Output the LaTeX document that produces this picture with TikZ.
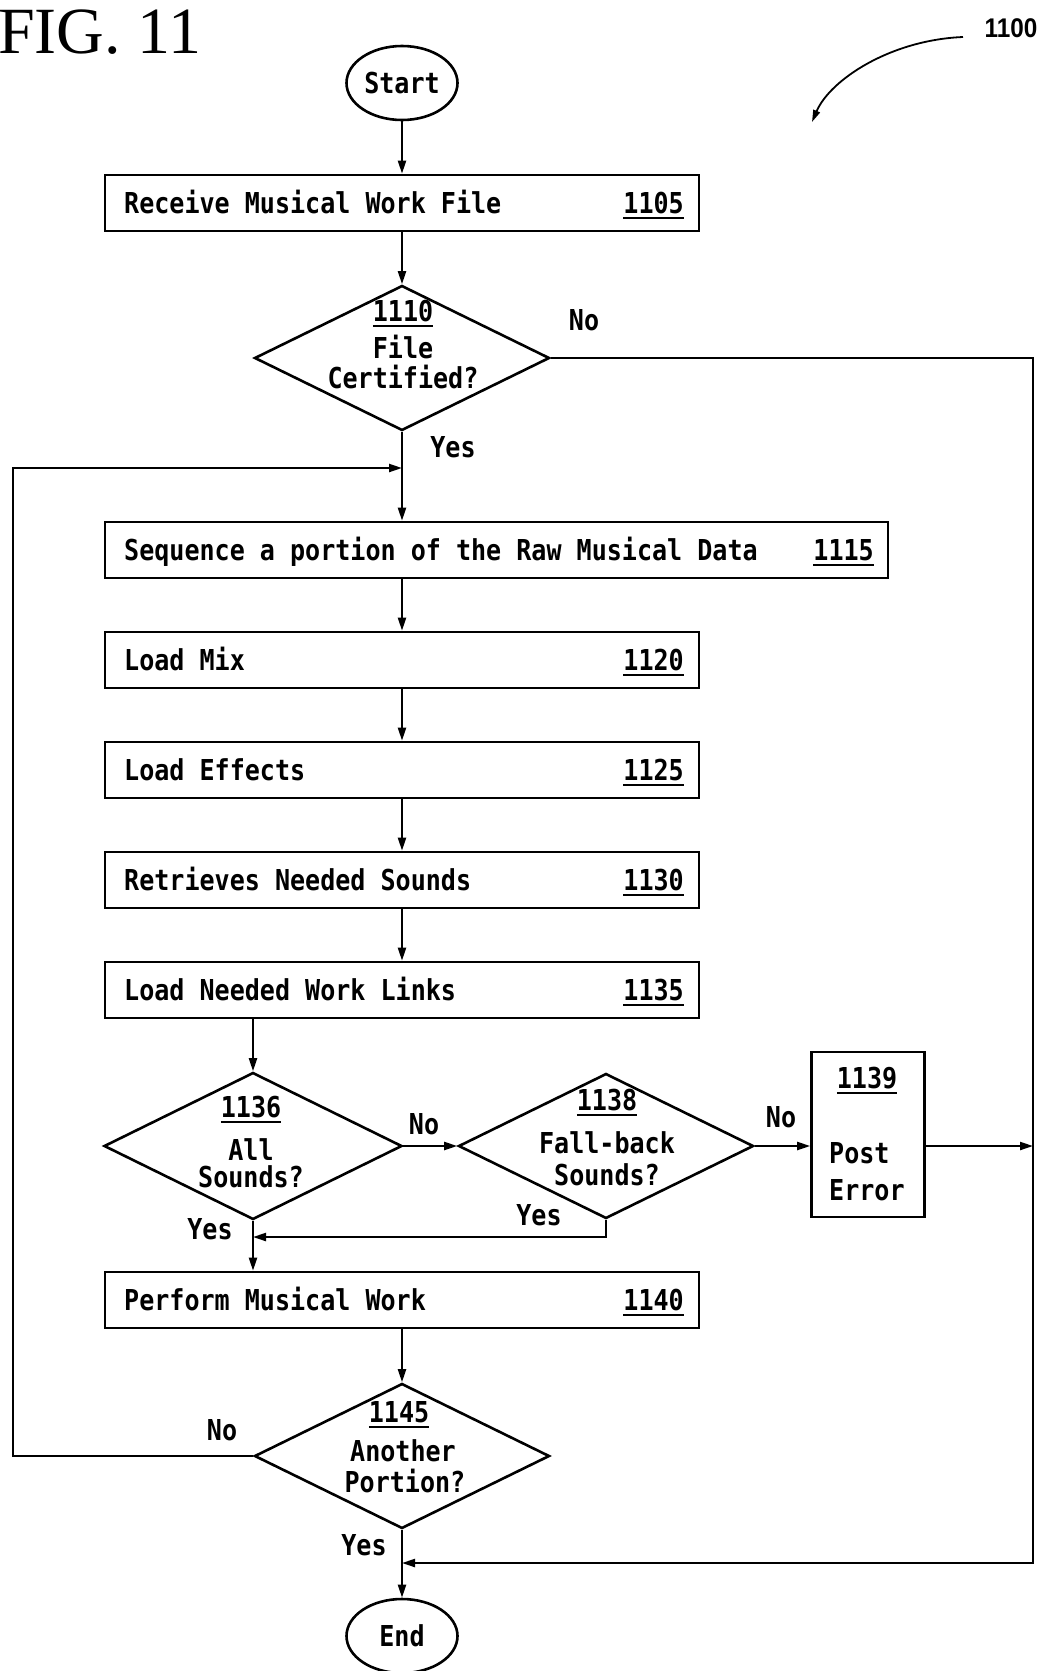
\documentclass[tikz,border=0pt]{standalone}
\usepackage{fontspec}
\usetikzlibrary{arrows.meta,shapes.geometric}
\newfontfamily\df{DejaVu Sans Mono}[FakeStretch=0.87]
\newfontfamily\figfont{Liberation Serif}
\newfontfamily\reffont{Liberation Sans}[FakeStretch=0.9]
\newcommand\refnum[1]{\setbox0\hbox{#1}\rlap{\rule[-5.5pt]{\wd0}{1.8pt}}\box0}
\begin{document}
\begin{tikzpicture}[x=1pt,y=-1pt,
  txt/.style={font=\df\bfseries\fontsize{28.8}{33}\selectfont, inner sep=0pt, text height=21pt, text depth=0pt},
  box/.style={draw, line width=2.6pt, minimum height=56pt, inner sep=0pt},
  dia/.style={draw, diamond, line width=2.6pt, minimum width=295pt, minimum height=145pt, inner sep=0pt},
  term/.style={draw, ellipse, line width=2.6pt, minimum width=111pt, minimum height=74pt, inner sep=0pt},
  arr/.style={line width=2.2pt, -{Triangle[length=13pt,width=8pt]}},
  ln/.style={line width=2.2pt}]
\useasboundingbox (0,0) rectangle (1042,1671);

% title and reference numeral
\node[font=\figfont\fontsize{66}{70}\selectfont, anchor=base west, inner sep=0pt] (fig) at (-2,53) {FIG. 11};
\node[font=\reffont\bfseries\fontsize{27}{30}\selectfont, inner sep=0pt, text height=20pt, text depth=0pt] (r1100) at (1011,27) {1100};
\coordinate (ca) at (963,37);
\coordinate (cb) at (812,122);
\draw[line width=1.8pt, -{Triangle[length=12pt,width=7pt]}] (ca) .. controls (890,40) and (830,80) .. (cb);

% terminals
\node[term] (start) at (402,83) {};
\node[txt] (tstart) at (start.center) {Start};
\node[term] (end) at (402,1636) {};
\node[txt] (tend) at (end.center) {End};

% boxes
\node[box, minimum width=594pt] (b1105) at (402,203) {};
\node[txt, anchor=west] (t1105) at (124,203) {Receive Musical Work File};
\node[txt, anchor=east] (n1105) at (684,203) {\refnum{1105}};

\node[box, minimum width=783pt] (b1115) at (496.5,550) {};
\node[txt, anchor=west] (t1115) at (124,550) {Sequence a portion of the Raw Musical Data};
\node[txt, anchor=east] (n1115) at (874,550) {\refnum{1115}};

\node[box, minimum width=594pt] (b1120) at (402,660) {};
\node[txt, anchor=west] (t1120) at (124,660) {Load Mix};
\node[txt, anchor=east] (n1120) at (684,660) {\refnum{1120}};

\node[box, minimum width=594pt] (b1125) at (402,770) {};
\node[txt, anchor=west] (t1125) at (124,770) {Load Effects};
\node[txt, anchor=east] (n1125) at (684,770) {\refnum{1125}};

\node[box, minimum width=594pt] (b1130) at (402,880) {};
\node[txt, anchor=west] (t1130) at (124,880) {Retrieves Needed Sounds};
\node[txt, anchor=east] (n1130) at (684,880) {\refnum{1130}};

\node[box, minimum width=594pt] (b1135) at (402,990) {};
\node[txt, anchor=west] (t1135) at (124,990) {Load Needed Work Links};
\node[txt, anchor=east] (n1135) at (684,990) {\refnum{1135}};

\node[box, minimum width=594pt] (b1140) at (402,1300) {};
\node[txt, anchor=west] (t1140) at (124,1300) {Perform Musical Work};
\node[txt, anchor=east] (n1140) at (684,1300) {\refnum{1140}};

\node[box, minimum width=113pt, minimum height=165pt] (b1139) at (868,1134.5) {};
\node[txt] (n1139) at (867,1078) {\refnum{1139}};
\node[txt, anchor=west] (p1139) at (829,1153) {Post};
\node[txt, anchor=west] (e1139) at (829,1190) {Error};

% diamonds
\node[dia] (d1110) at (402,358) {};
\node[txt] (n1110) at (403,311) {\refnum{1110}};
\node[txt] (a1110) at (403,348) {File};
\node[txt] (b1110) at (403,378) {Certified?};

\node[dia, minimum width=298pt, minimum height=147pt] (d1136) at (253,1146) {};
\node[txt] (n1136) at (251,1107) {\refnum{1136}};
\node[txt] (a1136) at (251,1150) {All};
\node[txt] (b1136) at (251,1177) {Sounds?};

\node[dia] (d1138) at (606,1146) {};
\node[txt] (n1138) at (607,1100) {\refnum{1138}};
\node[txt] (a1138) at (607,1143) {Fall-back};
\node[txt] (b1138) at (607,1175) {Sounds?};

\node[dia] (d1145) at (402,1456) {};
\node[txt] (n1145) at (399,1412) {\refnum{1145}};
\node[txt] (a1145) at (403,1451) {Another};
\node[txt] (b1145) at (405,1482) {Portion?};

% branch labels
\node[txt] (no1110) at (584,320) {No};
\node[txt] (yes1110) at (453,447) {Yes};
\node[txt] (no1136) at (424,1124) {No};
\node[txt] (no1138) at (781,1117) {No};
\node[txt] (yes1138) at (539,1215) {Yes};
\node[txt] (yes1136) at (210,1229) {Yes};
\node[txt] (no1145) at (222,1430) {No};
\node[txt] (yes1145) at (364,1545) {Yes};

% helper coordinates
\coordinate (rc) at (1033,1563);
\coordinate (lc) at (13,468);
\coordinate (yj) at (606,1237);

% connectors
\draw[arr] (start) -- (b1105);
\draw[arr] (b1105) -- (d1110);
\draw[arr] (d1110.south) -- (d1110.south |- b1115.north);
\draw[arr] (b1120.north |- b1115.south) -- (b1120.north);
\draw[arr] (b1120) -- (b1125);
\draw[arr] (b1125) -- (b1130);
\draw[arr] (b1130) -- (b1135);
\draw[arr] (d1136.north |- b1135.south) -- (d1136.north);
\draw[arr] (d1136.east) -- (d1138.west);
\draw[arr] (d1138.east) -- (d1138.east -| b1139.west);
\draw[arr] (b1139.east |- d1138.east) -- (rc |- d1138.east);
\draw[arr] (d1138.south) -- (yj) -- (yj -| d1136.south);
\draw[arr] (d1136.south) -- (d1136.south |- b1140.north);
\draw[arr] (d1145.north |- b1140.south) -- (d1145.north);
\draw[arr] (d1145.south) -- (end);
\draw[arr] (d1110.east) -| (rc) -- (rc -| d1145.south);
\draw[arr] (d1145.west) -| (lc) -- (lc -| d1110.south);
\end{tikzpicture}
\end{document}
